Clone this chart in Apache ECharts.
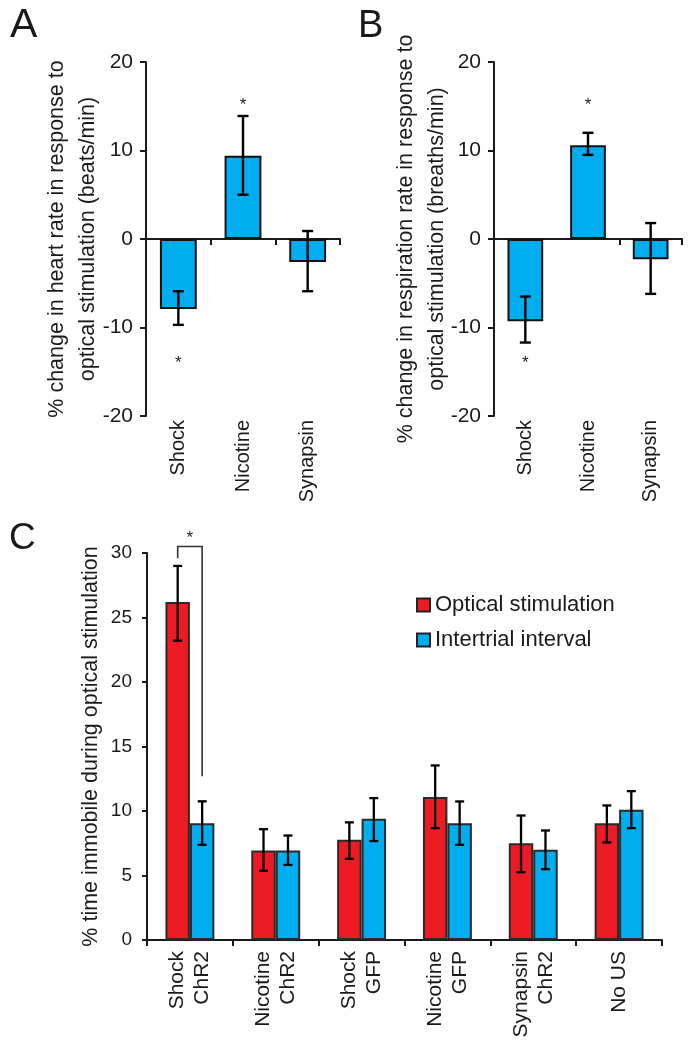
<!DOCTYPE html>
<html><head><meta charset="utf-8">
<script src="https://cdn.jsdelivr.net/npm/echarts@6/dist/echarts.min.js"></script>
<style>html,body{margin:0;padding:0;background:#fff}#c{width:695px;height:1049px}</style>
</head><body><div id="c"></div>
<script>
// ---- Panel A: heart rate ----
const categoriesAB = ['Shock', 'Nicotine', 'Synapsin'];
const heartMean = [-7.9, 9.4, -2.6];
const heartErrHigh = [-5.9, 13.9, 0.9];
const heartErrLow = [-9.7, 5.0, -5.9];
const heartStarY = [-13.7, 15.4, null];
// ---- Panel B: respiration rate ----
const respMean = [-9.3, 10.6, -2.3];
const respErrHigh = [-6.5, 12.0, 1.8];
const respErrLow = [-11.7, 9.5, -6.2];
const respStarY = [-13.7, 15.4, null];
const ticksAB = [-20, 20, 10];
// ---- Panel C: immobility ----
const groupsC = ['Shock\nChR2', 'Nicotine\nChR2', 'Shock\nGFP', 'Nicotine\nGFP', 'Synapsin\nChR2', 'No US'];
const optMean = [26.2, 6.94, 7.78, 11.08, 7.5, 9.06];
const optErrHigh = [29.0, 8.59, 9.12, 13.53, 9.65, 10.43];
const optErrLow = [23.2, 5.36, 6.29, 8.67, 5.26, 7.56];
const itiMean = [9.06, 6.94, 9.4, 9.06, 6.99, 10.09];
const itiErrHigh = [10.75, 8.10, 11.0, 10.74, 8.49, 11.54];
const itiErrLow = [7.38, 5.82, 7.67, 7.38, 5.49, 8.67];
const ticksC = [0, 30, 5];
// bracket: [group, top, left leg end, right leg end, star]
const sigC = [[0, 30.5, 29.6, 12.7, 31.4]];

const FONT = 'Liberation Sans, Arial, Helvetica, sans-serif';
const INK = '#1a1a1a';
const CYAN = '#00AEEF';
const RED = '#ED1C24';

const chart = echarts.init(document.getElementById('c'), null, {renderer: 'canvas'});

function errRender(offsetFrac, cap, lw) {
  return function (params, api) {
    const i = api.value(0);
    const band = api.size([1, 0])[0];
    const dx = offsetFrac * band;
    const hi = api.coord([i, api.value(1)]);
    const lo = api.coord([i, api.value(2)]);
    const x = hi[0] + dx;
    const style = {stroke: '#000', lineWidth: lw, fill: null};
    return {type: 'group', children: [
      {type: 'line', shape: {x1: x, y1: hi[1], x2: x, y2: lo[1]}, style: style},
      {type: 'line', shape: {x1: x - cap / 2, y1: hi[1], x2: x + cap / 2, y2: hi[1]}, style: style},
      {type: 'line', shape: {x1: x - cap / 2, y1: lo[1], x2: x + cap / 2, y2: lo[1]}, style: style}
    ]};
  };
}
function starRender(params, api) {
  const p = api.coord([api.value(0), api.value(1)]);
  return {type: 'text', x: p[0], y: p[1] + 3,
    style: {text: '*', fontSize: 17, fontFamily: FONT, fill: INK, align: 'center', verticalAlign: 'middle'}};
}
function bracketRender(params, api) {
  const i = api.value(0);
  const band = api.size([1, 0])[0];
  const off = 0.1425 * band;
  const top = api.coord([i, api.value(1)]);
  const l = api.coord([i, api.value(2)]);
  const r = api.coord([i, api.value(3)]);
  const s = api.coord([i, api.value(4)]);
  const cx = top[0];
  return {type: 'group', children: [
    {type: 'polyline', shape: {points: [[cx - off, l[1]], [cx - off, top[1]], [cx + off, top[1]], [cx + off, r[1]]]},
      style: {stroke: '#333', lineWidth: 1.6, fill: null}},
    {type: 'text', x: cx, y: s[1] + 3,
      style: {text: '*', fontSize: 17, fontFamily: FONT, fill: INK, align: 'center', verticalAlign: 'middle'}}
  ]};
}
function errData(hi, lo) { return hi.map((h, i) => [i, h, lo[i]]); }
function starData(ys) { return ys.map((y, i) => [i, y]).filter(d => d[1] != null); }

function labelAxis(grid, cats) {
  return {gridIndex: grid, type: 'category', data: cats, position: 'bottom',
    axisLine: {show: false, onZero: false}, axisTick: {show: false},
    axisLabel: {rotate: 90, interval: 0, fontSize: 20, fontFamily: FONT, color: INK, margin: 4}};
}
function zeroAxis(grid, cats) {
  return {gridIndex: grid, type: 'category', data: cats, position: 'bottom',
    axisLine: {show: true, onZero: true, lineStyle: {color: INK, width: 2}},
    axisTick: {show: true, length: 6, lineStyle: {color: INK, width: 2}},
    axisLabel: {show: false}};
}
function valAxisAB(grid, name, gap) {
  return {gridIndex: grid, type: 'value', min: ticksAB[0], max: ticksAB[1], interval: ticksAB[2],
    name: name, nameLocation: 'middle', nameGap: gap, nameMoveOverlap: false,
    nameTextStyle: {fontSize: 21.5, lineHeight: 31, fontFamily: FONT, color: INK},
    axisLine: {show: true, lineStyle: {color: INK, width: 2}},
    axisTick: {show: true, length: 6, lineStyle: {color: INK, width: 2}},
    splitLine: {show: false},
    axisLabel: {fontSize: 21, fontFamily: FONT, color: INK, margin: 13}};
}

const option = {
  animation: false,
  backgroundColor: '#fff',
  textStyle: {fontFamily: FONT},
  grid: [
    {left: 146, top: 62, width: 194, height: 354},
    {left: 494, top: 62, width: 188, height: 354},
    {left: 147, top: 553, width: 515, height: 387}
  ],
  legend: {
    data: ['Optical stimulation', 'Intertrial interval'],
    orient: 'vertical', left: 416, top: 594, padding: 0, icon: 'rect',
    itemWidth: 13, itemHeight: 13, itemGap: 13,
    itemStyle: {borderColor: '#222', borderWidth: 2},
    textStyle: {fontSize: 22, fontFamily: FONT, color: INK}
  },
  xAxis: [
    labelAxis(0, categoriesAB),
    zeroAxis(0, categoriesAB),
    labelAxis(1, categoriesAB),
    zeroAxis(1, categoriesAB),
    {gridIndex: 2, type: 'category', data: groupsC, position: 'bottom',
      axisLine: {show: true, lineStyle: {color: INK, width: 2}},
      axisTick: {show: true, length: 6, lineStyle: {color: INK, width: 2}},
      axisLabel: {rotate: 90, interval: 0, fontSize: 21, lineHeight: 25, fontFamily: FONT, color: INK, margin: 11}}
  ],
  yAxis: [
    valAxisAB(0, '% change in heart rate in response to\noptical stimulation (beats/min)', 42),
    valAxisAB(1, '% change in respiration rate in response to\noptical stimulation (breaths/min)', 41),
    {gridIndex: 2, type: 'value', min: ticksC[0], max: ticksC[1], interval: ticksC[2],
      name: '% time immobile during optical stimulation', nameLocation: 'middle', nameGap: 45,
      nameMoveOverlap: false,
      nameTextStyle: {fontSize: 21.5, fontFamily: FONT, color: INK},
      axisLine: {show: true, lineStyle: {color: INK, width: 2}},
      axisTick: {show: true, length: 5, lineStyle: {color: INK, width: 2}},
      splitLine: {show: false},
      axisLabel: {fontSize: 19, fontFamily: FONT, color: INK, margin: 15}}
  ],
  series: [
    {type: 'bar', name: 'heart', xAxisIndex: 0, yAxisIndex: 0, data: heartMean, barWidth: '57%',
      itemStyle: {color: CYAN, borderColor: '#111', borderWidth: 2}},
    {type: 'custom', xAxisIndex: 0, yAxisIndex: 0, data: errData(heartErrHigh, heartErrLow),
      renderItem: errRender(0, 11, 2.4), encode: {x: 0, y: [1, 2]}, z: 5},
    {type: 'custom', xAxisIndex: 0, yAxisIndex: 0, data: starData(heartStarY),
      renderItem: starRender, encode: {x: 0, y: 1}, z: 5},

    {type: 'bar', name: 'resp', xAxisIndex: 2, yAxisIndex: 1, data: respMean, barWidth: '57%',
      itemStyle: {color: CYAN, borderColor: '#111', borderWidth: 2}},
    {type: 'custom', xAxisIndex: 2, yAxisIndex: 1, data: errData(respErrHigh, respErrLow),
      renderItem: errRender(0, 11, 2.4), encode: {x: 0, y: [1, 2]}, z: 5},
    {type: 'custom', xAxisIndex: 2, yAxisIndex: 1, data: starData(respStarY),
      renderItem: starRender, encode: {x: 0, y: 1}, z: 5},

    {type: 'bar', name: 'Optical stimulation', xAxisIndex: 4, yAxisIndex: 2, data: optMean,
      barGap: '0%', barCategoryGap: '43%',
      itemStyle: {color: RED, borderColor: '#2a2a2a', borderWidth: 2}},
    {type: 'bar', name: 'Intertrial interval', xAxisIndex: 4, yAxisIndex: 2, data: itiMean,
      barGap: '0%', barCategoryGap: '43%',
      itemStyle: {color: CYAN, borderColor: '#2a2a2a', borderWidth: 2}},
    {type: 'custom', xAxisIndex: 4, yAxisIndex: 2, data: errData(optErrHigh, optErrLow),
      renderItem: errRender(-0.1425, 9, 2.3), encode: {x: 0, y: [1, 2]}, z: 5},
    {type: 'custom', xAxisIndex: 4, yAxisIndex: 2, data: errData(itiErrHigh, itiErrLow),
      renderItem: errRender(0.1425, 9, 2.3), encode: {x: 0, y: [1, 2]}, z: 5},
    {type: 'custom', xAxisIndex: 4, yAxisIndex: 2, data: sigC,
      renderItem: bracketRender, encode: {x: 0, y: [1, 2, 3, 4]}, z: 5, clip: false}
  ],
  graphic: [
    {type: 'text', left: 10, top: 5, style: {text: 'A', fontSize: 41, fontFamily: FONT, fill: INK}},
    {type: 'text', left: 358, top: 8, style: {text: 'B', fontSize: 38, fontFamily: FONT, fill: INK}},
    {type: 'text', left: 9, top: 520, style: {text: 'C', fontSize: 37, fontFamily: FONT, fill: INK}}
  ]
};
chart.setOption(option);
</script>
</body></html>
